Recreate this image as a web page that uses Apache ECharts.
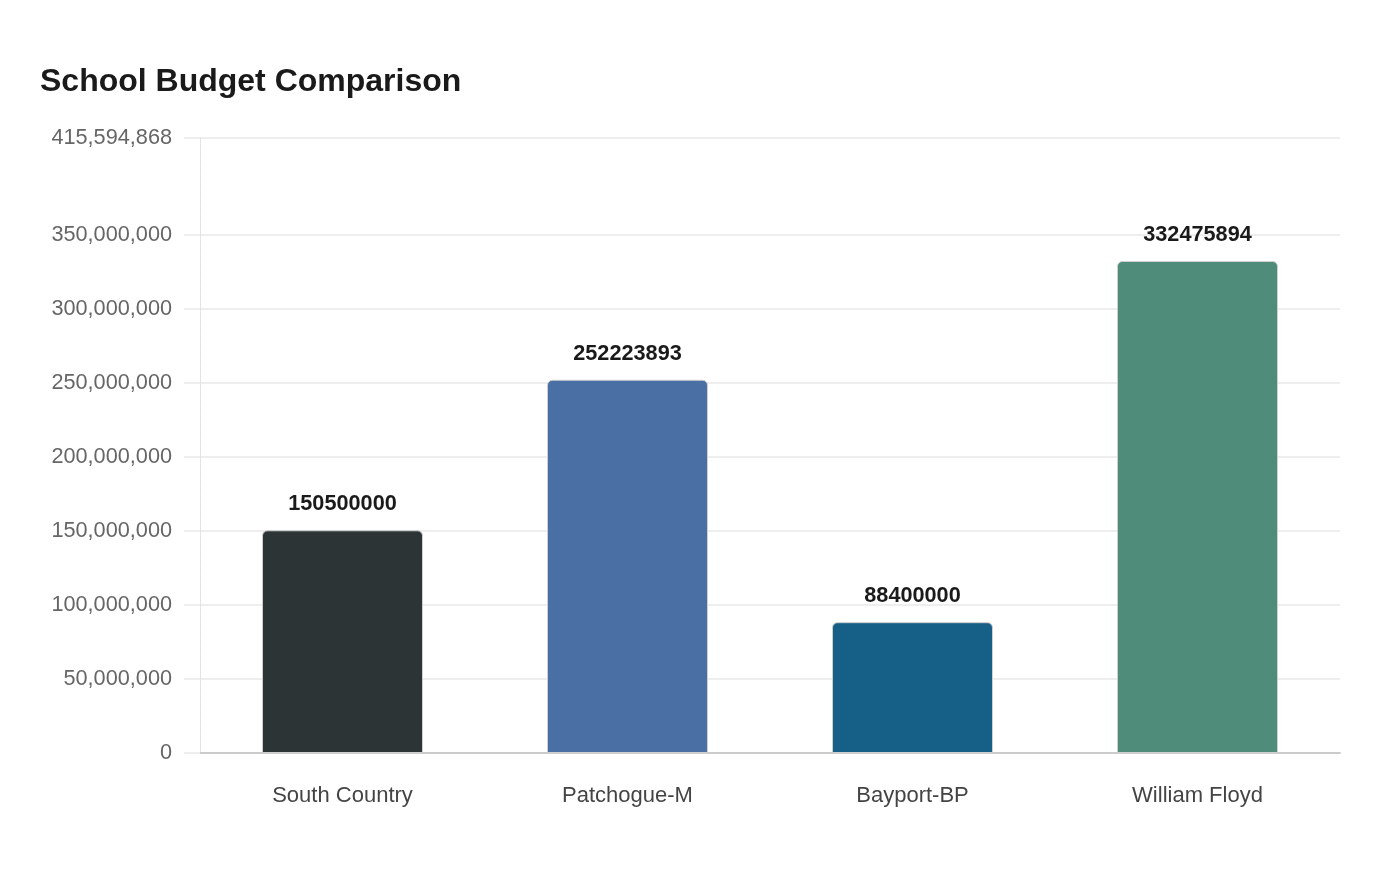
<!DOCTYPE html>
<html>
<head>
<meta charset="utf-8" />
<title>School Budget Comparison</title>
<script src="https://cdn.jsdelivr.net/npm/echarts@6/dist/echarts.min.js"></script>
<style>
  html, body { margin: 0; padding: 0; background: #fff; }
  #chart { width: 1400px; height: 880px; }
</style>
</head>
<body>
<div id="chart"></div>
<script>
var districts = ["South Country", "Patchogue-M", "Bayport-BP", "William Floyd"];
var budgets = [150500000, 252223893, 88400000, 332475894];
var barColors = ["#2d3436", "#4a6fa5", "#166088", "#4f8c7a"];

var yMax = 415594868;
var yTicks = [0, 50000000, 100000000, 150000000, 200000000, 250000000, 300000000, 350000000, yMax];

var chart = echarts.init(document.getElementById("chart"));
chart.setOption({
  animation: false,
  textStyle: { fontFamily: "'Liberation Sans'" },
  title: {
    text: "School Budget Comparison",
    left: 35,
    top: 61,
    textStyle: { fontFamily: "'Liberation Sans'", fontSize: 32, fontWeight: "bold", color: "#1a1a1a" }
  },
  grid: { left: 200, right: 60, top: 138, bottom: 127 },
  xAxis: {
    type: "category",
    data: districts,
    axisLine: { lineStyle: { color: "#ccc", width: 2 } },
    axisTick: { show: false },
    axisLabel: { color: "#444", fontSize: 22, margin: 32, fontFamily: "'Liberation Sans'" }
  },
  yAxis: {
    type: "value",
    min: 0,
    max: yMax,
    axisLine: { show: true, lineStyle: { color: "#ddd", type: "dotted" } },
    axisTick: { show: true, length: 16, customValues: yTicks, lineStyle: { color: "#eee", width: 2 } },
    splitLine: { lineStyle: { color: "#eee", width: 2 } },
    axisLabel: {
      customValues: yTicks,
      color: "#666",
      fontSize: 21.7,
      margin: 28,
      padding: [4, 0, 0, 0],
      fontFamily: "'Liberation Sans'",
      formatter: function (v) { return Math.round(v).toLocaleString("en-US"); }
    }
  },
  series: [{
    type: "bar",
    barWidth: "56.5%",
    data: budgets.map(function (v, i) {
      return { value: v, itemStyle: { color: barColors[i] } };
    }),
    itemStyle: { borderRadius: [5, 5, 0, 0], borderColor: "#d0d0d0", borderWidth: 1 },
    label: {
      show: true,
      position: "top",
      distance: 15,
      fontSize: 21.7,
      fontWeight: "bold",
      fontFamily: "'Liberation Sans'",
      color: "#1a1a1a"
    }
  }]
});
</script>
</body>
</html>
